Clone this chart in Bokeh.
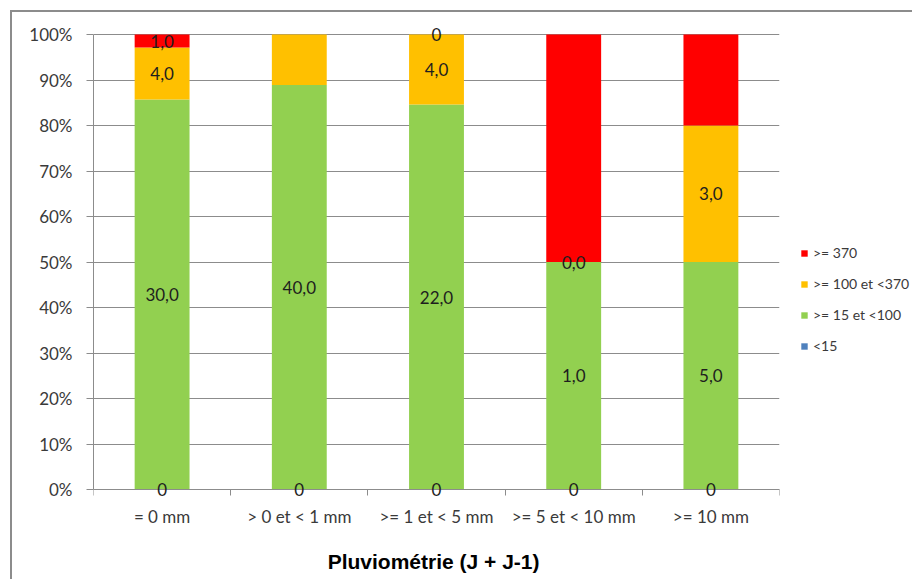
import numpy as np
from bokeh.plotting import figure
from bokeh.models import (ColumnDataSource, Range1d, FixedTicker, NumeralTickFormatter,
                          Legend, LegendItem, LabelSet, LinearAxis)
from bokeh.core.properties import value
from bokeh.embed import file_html
from bokeh.resources import INLINE

# ---- data ----
categories = ["= 0 mm", "> 0 et < 1 mm", ">= 1 et < 5 mm", ">= 5 et < 10 mm", ">= 10 mm"]
series_names = ["<15", ">= 15 et <100", ">= 100 et <370", ">= 370"]
lt15 = [0, 0, 0, 0, 0]
s15_100 = [30, 40, 22, 1, 5]
s100_370 = [4, 5, 4, 0, 3]
ge370 = [1, 0, 0, 1, 2]
# data labels as displayed (empty = not shown)
lbl_lt15 = ["0", "0", "0", "0", "0"]
lbl_15_100 = ["30,0", "40,0", "22,0", "1,0", "5,0"]
lbl_100_370 = ["4,0", "", "4,0", "0,0", "3,0"]
lbl_ge370 = ["1,0", "", "0", "", ""]
colors = ["#4F81BD", "#92D050", "#FFC000", "#FF0000"]
y_ticks = [0, 0.1, 0.2, 0.3, 0.4, 0.5, 0.6, 0.7, 0.8, 0.9, 1.0]

series = [lt15, s15_100, s100_370, ge370]
labels = [lbl_lt15, lbl_15_100, lbl_100_370, lbl_ge370]
keys = ["s0", "s1", "s2", "s3"]

arr = np.array(series, dtype=float)
totals = arr.sum(axis=0)
frac = arr / totals
xpos = np.arange(len(categories)) + 0.5

src = {"x": xpos}
for k, f in zip(keys, frac):
    src[k] = f
source = ColumnDataSource(src)

# small padding (in px) above/below the 0..100% band so edge labels are not clipped
PAD_PX = 10
PLOT_PX = 455
pad = PAD_PX / PLOT_PX

p = figure(frame_width=686, frame_height=PLOT_PX + 2 * PAD_PX,
           x_range=Range1d(0, len(categories)), y_range=Range1d(-pad, 1 + pad),
           output_backend="svg", toolbar_location=None,
           min_border_left=93, min_border_right=133,
           min_border_top=34 - PAD_PX, min_border_bottom=90 - PAD_PX)
p.border_fill_color = None
p.background_fill_color = "#ffffff"
p.outline_line_color = None
p.styles = {"box-shadow": "inset 10px 10px 0 0 #ffffff, inset 12px 12px 0 0 #8c8c8c"}

rends = p.vbar_stack(keys, x="x", width=0.4, color=colors, line_color=None, source=source)

# data labels
bottoms = np.vstack([np.zeros(len(categories)), np.cumsum(frac, axis=0)[:-1]])
lx, ly, lt = [], [], []
for i in range(len(series)):
    for j in range(len(categories)):
        if labels[i][j]:
            lx.append(xpos[j])
            ly.append(bottoms[i][j] + frac[i][j] / 2)
            lt.append(labels[i][j])
lab_src = ColumnDataSource(dict(x=lx, y=ly, t=lt))
p.add_layout(LabelSet(x="x", y="y", text="t", source=lab_src, level="overlay",
                      text_align="center", text_baseline="middle",
                      text_font=value("Lato"), text_font_size="17px", text_color="#1e1e1e"))

# axes
gray = "#8c8c8c"
yax = p.yaxis[0]
yax.ticker = FixedTicker(ticks=y_ticks)
yax.formatter = NumeralTickFormatter(format="0%")
yax.bounds = (0, 1)
yax.axis_line_color = gray
yax.major_tick_line_color = gray
yax.major_tick_out = 7
yax.major_tick_in = 0
yax.minor_tick_line_color = None
yax.major_label_text_font = "Lato"
yax.major_label_text_font_size = "17px"
yax.major_label_text_color = "#3a3a3a"
yax.major_label_standoff = 14

# x axis line + category-boundary ticks, fixed at 0%
xax = p.xaxis[0]
xax.fixed_location = 0
xax.ticker = FixedTicker(ticks=[], minor_ticks=list(range(len(categories) + 1)))
xax.axis_line_color = gray
xax.major_tick_line_color = None
xax.major_tick_out = 0
xax.major_tick_in = 0
xax.minor_tick_line_color = gray
xax.minor_tick_out = 6
xax.minor_tick_in = 0
xax.major_label_standoff = 0

# category labels + title
xlab = LinearAxis(ticker=FixedTicker(ticks=list(xpos)))
xlab.major_label_overrides = {float(x): c for x, c in zip(xpos, categories)}
xlab.axis_line_color = None
xlab.major_tick_line_color = None
xlab.minor_tick_line_color = None
xlab.major_tick_out = 0
xlab.major_tick_in = 0
xlab.major_label_text_font = "Lato"
xlab.major_label_text_font_size = "17px"
xlab.major_label_text_color = "#3a3a3a"
xlab.major_label_standoff = 6
xlab.axis_label = "Pluviométrie  (J + J-1)"
xlab.axis_label_text_font = "Liberation Sans"
xlab.axis_label_text_font_style = "bold"
xlab.axis_label_text_font_size = "21px"
xlab.axis_label_text_color = "#000000"
xlab.axis_label_standoff = 20
p.add_layout(xlab, "below")

p.xgrid.visible = False
p.ygrid.ticker = FixedTicker(ticks=y_ticks)
p.ygrid.grid_line_color = gray

items = [LegendItem(label=series_names[i], renderers=[rends[i]]) for i in range(len(series) - 1, -1, -1)]
legend = Legend(items=items, location=(21, 135 + PAD_PX), padding=0, margin=0,
                border_line_color=None, background_fill_alpha=0,
                glyph_width=8, glyph_height=8, label_standoff=5, spacing=14,
                label_height=16, label_text_font="Lato", label_text_font_size="14px",
                label_text_color="#3a3a3a")
p.add_layout(legend, "right")

open("out.html", "w").write(file_html(p, INLINE))
